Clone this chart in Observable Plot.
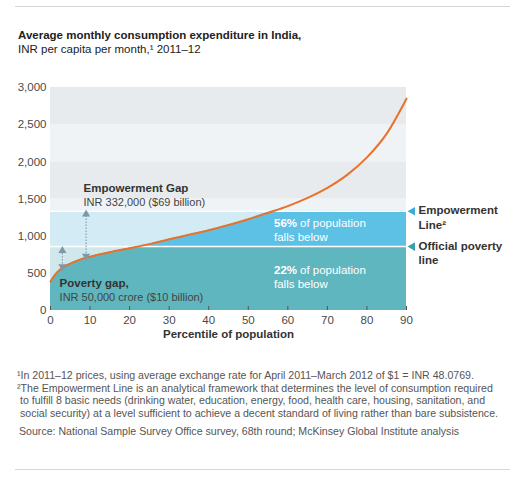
<!DOCTYPE html>
<html>
<head>
<meta charset="utf-8">
<script src="https://cdn.jsdelivr.net/npm/d3@7"></script>
<script src="https://cdn.jsdelivr.net/npm/@observablehq/plot@0.6"></script>
<style>
  body { margin: 0; background: #fff; font-family: "Liberation Sans", Arial, sans-serif; }
  #wrap { position: relative; width: 525px; height: 480px; overflow: hidden; }
  .rule { position: absolute; left: 15px; width: 495px; border-top: 1px solid #d6d6d6; }
  #title { position: absolute; left: 18px; top: 28px; font-size: 11.5px; line-height: 14px; color: #222; }
  #title b { font-weight: bold; }
  #chart { position: absolute; left: 0; top: 70px; }
  #notes { position: absolute; left: 17px; top: 369px; font-size: 10.6px; line-height: 12.6px; color: #555; white-space: nowrap; }
  #notes .ind { padding-left: 3px; }
  #notes .src { margin-top: 6px; padding-left: 2px; }
</style>
</head>
<body>
<div id="wrap">
  <div class="rule" style="top:6px"></div>
  <div id="title"><b>Average monthly consumption expenditure in India,</b><br>INR per capita per month,¹ 2011–12</div>
  <div id="chart"></div>
  <div id="notes">
    <div>¹In 2011–12 prices, using average exchange rate for April 2011–March 2012 of $1 = INR 48.0769.</div>
    <div>²The Empowerment Line is an analytical framework that determines the level of consumption required</div>
    <div class="ind">to fulfill 8 basic needs (drinking water, education, energy, food, health care, housing, sanitation, and</div>
    <div class="ind">social security) at a level sufficient to achieve a decent standard of living rather than bare subsistence.</div>
    <div class="src">Source: National Sample Survey Office survey, 68th round; McKinsey Global Institute analysis</div>
  </div>
  <div class="rule" style="top:469px"></div>
</div>
<script>
// consumption curve, INR per capita per month by percentile
const pct = [0, 1, 2, 3, 5, 7, 9, 12, 15, 20, 25, 30, 35, 40, 45, 50, 55, 60, 65, 70, 75, 80, 85, 90];
const inr = [390, 470, 530, 575, 630, 675, 710, 750, 785, 838, 893, 958, 1018, 1080, 1150, 1228, 1315, 1405, 1515, 1650, 1825, 2060, 2380, 2850];

const povertyLine = 860;
const empowermentLine = 1336;

const xTicks = [0, 10, 20, 30, 40, 50, 60, 70, 80, 90];
const yTicks = [0, 500, 1000, 1500, 2000, 2500, 3000];

// grey background bands above the empowerment line
const bandLow = [1336, 1500, 2000, 2500];
const bandHigh = [1500, 2000, 2500, 3000];

// gap arrows
const arrowX = [3, 9];
const arrowTop = [806, 1297];
const arrowBottom = [591, 732];

const curve = pct.map((p, i) => ({p, v: inr[i]}));
const bands = bandLow.map((lo, i) => ({lo, hi: bandHigh[i], x1: 0, x2: 90, i}));
const arrows = arrowX.map((x, i) => ({x, top: arrowTop[i], bottom: arrowBottom[i]}));

const font = "Liberation Sans, Arial, sans-serif";

const chart = Plot.plot({
  width: 525,
  height: 280,
  marginLeft: 50,
  marginRight: 119,
  marginTop: 17,
  marginBottom: 40,
  style: {fontFamily: font, fontSize: "11px", background: "transparent"},
  x: {domain: [0, 90]},
  y: {domain: [0, 3000]},
  marks: [
    Plot.rect(bands, {x1: "x1", x2: "x2", y1: "lo", y2: "hi", fill: (d) => d.i % 2 ? "#e7ebee" : "#eff3f5"}),
    Plot.rect([{x1: 0, x2: 90, y1: povertyLine, y2: empowermentLine}], {x1: "x1", x2: "x2", y1: "y1", y2: "y2", fill: "#d2ebf4"}),
    Plot.rect([{x1: 0, x2: 90, y1: 0, y2: povertyLine}], {x1: "x1", x2: "x2", y1: "y1", y2: "y2", fill: "#cfe8ec"}),
    Plot.areaY(curve, {x: "p", y1: 0, y2: (d) => Math.min(d.v, empowermentLine), fill: "#5dc0e5", curve: "monotone-x"}),
    Plot.areaY(curve, {x: "p", y1: 0, y2: (d) => Math.min(d.v, povertyLine), fill: "#60b6be", curve: "monotone-x"}),
    Plot.ruleY([povertyLine, empowermentLine], {stroke: "white", strokeWidth: 1.5}),
    Plot.line(curve, {x: "p", y: "v", stroke: "#e8722c", strokeWidth: 2, curve: "monotone-x"}),

    // gap arrows
    Plot.link(arrows, {x1: "x", x2: "x", y1: "bottom", y2: "top", stroke: "#8aa1b0", strokeWidth: 1.2, strokeDasharray: "1.5,1.5"}),
    Plot.dot(arrows, {x: "x", y: "top", symbol: "triangle", r: 3, fill: "#7f98a9", stroke: null}),
    Plot.dot(arrows, {x: "x", y: "bottom", symbol: "triangle", r: 3, rotate: 180, fill: "#7f98a9", stroke: null}),

    // gap labels
    Plot.text(["Empowerment Gap"], {x: 8.35, y: 1639, textAnchor: "start", fontWeight: "bold", fontSize: 11.5, fill: "#333"}),
    Plot.text(["INR 332,000 ($69 billion)"], {x: 8.35, y: 1451, textAnchor: "start", fontSize: 11, fill: "#444"}),
    Plot.text(["Poverty gap,"], {x: 2.3, y: 363, textAnchor: "start", fontWeight: "bold", fontSize: 11.5, fill: "#333"}),
    Plot.text(["INR 50,000 crore ($10 billion)"], {x: 2.3, y: 175, textAnchor: "start", fontSize: 11, fill: "#444"}),

    // share below the lines
    Plot.text(["56%"], {x: 56.5, y: 1169, textAnchor: "start", fontWeight: "bold", fontSize: 11.5, fill: "white"}),
    Plot.text(["of population"], {x: 56.5, y: 1169, dx: 26, textAnchor: "start", fontSize: 11.5, fill: "white"}),
    Plot.text(["falls below"], {x: 56.5, y: 981, textAnchor: "start", fontSize: 11.5, fill: "white"}),
    Plot.text(["22%"], {x: 56.5, y: 537, textAnchor: "start", fontWeight: "bold", fontSize: 11.5, fill: "white"}),
    Plot.text(["of population"], {x: 56.5, y: 537, dx: 26, textAnchor: "start", fontSize: 11.5, fill: "white"}),
    Plot.text(["falls below"], {x: 56.5, y: 349, textAnchor: "start", fontSize: 11.5, fill: "white"}),

    // line markers on the right
    Plot.dot([empowermentLine], {x: 90, y: (d) => d, dx: 6, symbol: "triangle", r: 3.2, rotate: -90, fill: "#38abd8", stroke: null}),
    Plot.dot([povertyLine], {x: 90, y: (d) => d, dx: 6, symbol: "triangle", r: 3.2, rotate: -90, fill: "#3b9ea8", stroke: null}),
    Plot.text(["Empowerment\nLine²"], {x: 90, y: empowermentLine, dx: 12, dy: -7, textAnchor: "start", lineAnchor: "top", lineHeight: 1.25, fontWeight: "bold", fontSize: 11.5, fill: "#333"}),
    Plot.text(["Official poverty\nline"], {x: 90, y: povertyLine, dx: 12, dy: -7, textAnchor: "start", lineAnchor: "top", lineHeight: 1.25, fontWeight: "bold", fontSize: 11.5, fill: "#333"}),

    // axes
    Plot.axisY({ticks: yTicks, tickSize: 0, tickPadding: 4, tickFormat: d3.format(","), label: null, color: "#4a4a4a", fontSize: 11.5}),
    Plot.axisX({ticks: xTicks, tickSize: 0, tickPadding: 5, label: null, color: "#4a4a4a", fontSize: 11.5}),
    Plot.axisX({ticks: xTicks, tickSize: 4, dy: -4, tickFormat: () => "", label: null, color: "#555"}),
    Plot.text(["Percentile of population"], {frameAnchor: "bottom", dy: 27, fontWeight: "bold", fontSize: 11.5, fill: "#333"})
  ]
});

d3.select("#chart").append(() => chart);
</script>
</body>
</html>
